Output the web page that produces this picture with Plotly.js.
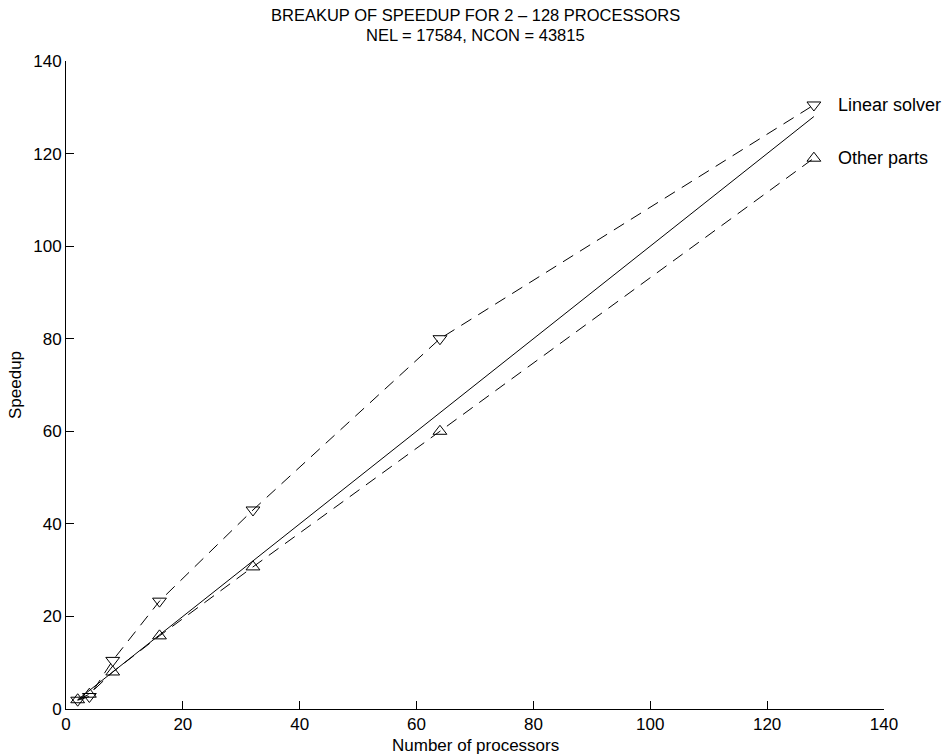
<!DOCTYPE html>
<html>
<head>
<meta charset="utf-8">
<script src="https://cdn.plot.ly/plotly-3.0.1.min.js"></script>
<style>body{margin:0;background:#fff}#chart{width:947px;height:754px}</style>
</head>
<body>
<div id="chart"></div>
<script>
const processors = [2, 4, 8, 16, 32, 64, 128];
const linearSolver = [1.9, 2.7, 10.5, 23.3, 43, 80, 130.5];
const otherParts = [2.0, 3.2, 8.0, 15.8, 30.7, 60, 119];
const ideal = [2, 4, 8, 16, 32, 64, 128];
const seriesNames = ["Linear solver", "Other parts"];
const titleLines = ["BREAKUP OF SPEEDUP FOR 2 \u2013 128 PROCESSORS", "NEL = 17584, NCON = 43815"];
const xTitle = "Number of processors";
const yTitle = "Speedup";
const xTicks = [0, 20, 40, 60, 80, 100, 120, 140];
const yTicks = [0, 20, 40, 60, 80, 100, 120, 140];

const fam = "Liberation Sans, Arial, sans-serif";
const f = s => ({family: fam, size: s, color: "#000"});
const traces = [
  {x: processors, y: ideal, mode: "lines", line: {color: "#000", width: 1}, hoverinfo: "skip"},
  {x: processors, y: linearSolver, mode: "lines+markers", name: seriesNames[0],
   line: {color: "#000", width: 1, dash: "12px,8px"},
   marker: {symbol: "triangle-down-open", size: 12, color: "#000", line: {width: 1, color: "#000"}}},
  {x: processors, y: otherParts, mode: "lines+markers", name: seriesNames[1],
   line: {color: "#000", width: 1, dash: "12px,8px"},
   marker: {symbol: "triangle-up-open", size: 12, color: "#000", line: {width: 1, color: "#000"}}}
];
const layout = {
  width: 947, height: 754,
  margin: {l: 66, r: 63, t: 61, b: 45},
  paper_bgcolor: "#fff", plot_bgcolor: "#fff",
  showlegend: false,
  font: f(16),
  xaxis: {range: [0, 140], tickvals: xTicks, ticks: "inside", ticklen: 8, tickcolor: "#000",
          showgrid: false, zeroline: false, showline: true, linecolor: "#000", linewidth: 1,
          tickfont: f(17)},
  yaxis: {range: [0, 140], tickvals: yTicks, ticks: "inside", ticklen: 8, tickcolor: "#000",
          showgrid: false, zeroline: false, showline: true, linecolor: "#000", linewidth: 1,
          tickfont: f(17)},
  annotations: [
    {xref: "paper", yref: "paper", x: 0.5, y: 1, yshift: 46, text: titleLines[0], showarrow: false,
     xanchor: "center", yanchor: "middle", font: f(16.5)},
    {xref: "paper", yref: "paper", x: 0.5, y: 1, yshift: 26, text: titleLines[1], showarrow: false,
     xanchor: "center", yanchor: "middle", font: f(16.5)},
    {xref: "paper", yref: "paper", x: 0.5, y: 0, yshift: -36, text: xTitle, showarrow: false,
     xanchor: "center", yanchor: "middle", font: f(17)},
    {xref: "paper", yref: "paper", x: 0, y: 0.5, xshift: -51, text: yTitle, showarrow: false, textangle: -90,
     xanchor: "center", yanchor: "middle", font: f(17)},
    {x: processors[6], y: linearSolver[6], xref: "x", yref: "y", text: seriesNames[0], showarrow: false,
     xanchor: "left", xshift: 22, font: f(18)},
    {x: processors[6], y: otherParts[6], xref: "x", yref: "y", text: seriesNames[1], showarrow: false,
     xanchor: "left", xshift: 22, font: f(18)}
  ]
};
Plotly.newPlot("chart", traces, layout, {displayModeBar: false, staticPlot: true});
</script>
</body>
</html>
